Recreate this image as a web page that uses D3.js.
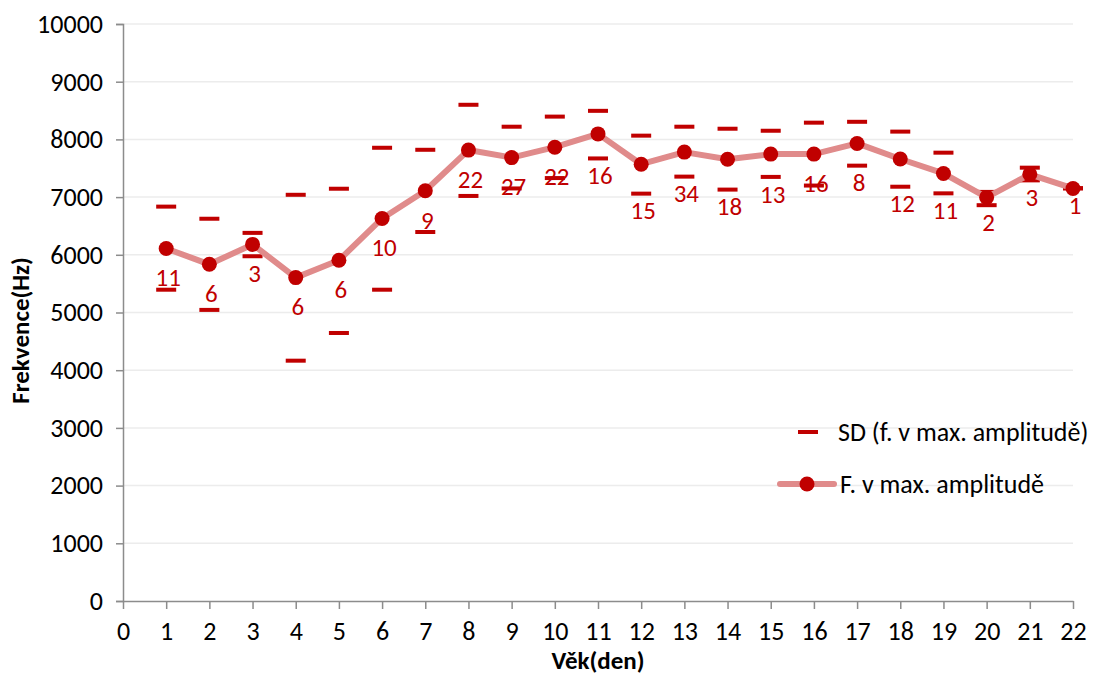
<!DOCTYPE html>
<html>
<head>
<meta charset="utf-8">
<script src="https://cdn.jsdelivr.net/npm/d3@7"></script>
<style>
  body { margin: 0; background: #fff; }
  svg { display: block; }
  text { font-family: Carlito, Calibri, "Open Sans", sans-serif; }
  .tick text { font-size: 26px; fill: #000; }
  .axis-title { font-size: 25px; font-weight: bold; fill: #000; }
  .legend text { font-size: 26px; fill: #000; }
  .n-label { font-size: 25px; fill: #c00000; }
</style>
</head>
<body>
<svg width="1102" height="675"></svg>
<script>
const days = [1, 2, 3, 4, 5, 6, 7, 8, 9, 10, 11, 12, 13, 14, 15, 16, 17, 18, 19, 20, 21, 22];
const meanFreq = [6110, 5835, 6180, 5605, 5905, 6630, 7110, 7815, 7685, 7865, 8095, 7570,
                  7780, 7655, 7745, 7745, 7930, 7660, 7410, 6995, 7395, 7150];
const sdUpper = [6835, 6625, 6380, 7040, 7145, 7855, 7820, 8600, 8220, 8395, 8495, 8065,
                 8220, 8185, 8150, 8290, 8305, 8135, 7770, 7090, 7510, 7155];
const sdLower = [5395, 5045, 5975, 4165, 4645, 5395, 6395, 7020, 7150, 7330, 7670, 7060,
                 7355, 7130, 7350, 7200, 7545, 7180, 7065, 6860, 7290, 7150];
const counts = [11, 6, 3, 6, 6, 10, 9, 22, 27, 22, 16, 15, 34, 18, 13, 16, 8, 12, 11, 2, 3, 1];
const yTicks = [0, 1000, 2000, 3000, 4000, 5000, 6000, 7000, 8000, 9000, 10000];
const xTicks = d3.range(0, 23);

const svg = d3.select('svg');
const width = +svg.attr('width');
const height = +svg.attr('height');
const margin = { top: 24, right: 29, bottom: 74, left: 123 };
const innerWidth = width - margin.left - margin.right;
const innerHeight = height - margin.top - margin.bottom;

const dark = '#c00000';
const light = '#e08b8b';

const data = days.map((d, i) => ({
    day: d, mean: meanFreq[i], hi: sdUpper[i], lo: sdLower[i], n: counts[i]
}));

const xScale = d3.scaleLinear().domain([0, 22]).range([0, innerWidth]);
const yScale = d3.scaleLinear().domain([0, 10000]).range([innerHeight, 0]);

const g = svg.append('g')
    .attr('transform', `translate(${margin.left}, ${margin.top})`);

// gridlines
g.append('g')
    .selectAll('line')
    .data(yTicks.slice(1))
    .enter()
    .append('line')
    .attr('x1', 0)
    .attr('x2', innerWidth)
    .attr('y1', (d) => yScale(d))
    .attr('y2', (d) => yScale(d))
    .attr('stroke', '#ececec')
    .attr('stroke-width', 1.5);

const yAxisG = g.append('g')
    .call(d3.axisLeft(yScale).tickValues(yTicks).tickFormat(d3.format('d'))
        .tickSize(7).tickPadding(13));
yAxisG.selectAll('.domain, .tick line').attr('stroke', '#8c8c8c').attr('stroke-width', 1.5);

const xAxisG = g.append('g')
    .attr('transform', `translate(0, ${innerHeight})`)
    .call(d3.axisBottom(xScale).tickValues(xTicks).tickFormat(d3.format('d'))
        .tickSize(8).tickPadding(13).tickSizeOuter(0));
xAxisG.selectAll('.domain, .tick line').attr('stroke', '#8c8c8c').attr('stroke-width', 1.5);

g.append('text')
    .attr('class', 'axis-title')
    .attr('x', innerWidth / 2)
    .attr('y', innerHeight + 68)
    .attr('text-anchor', 'middle')
    .text('Věk(den)');

g.append('text')
    .attr('class', 'axis-title')
    .attr('transform', `translate(${-margin.left + 29}, ${innerHeight / 2 + 18}) rotate(-90)`)
    .attr('text-anchor', 'middle')
    .text('Frekvence(Hz)');

// SD dashes
const sdVals = data.flatMap((d) => [{ day: d.day, v: d.hi }, { day: d.day, v: d.lo }]);
g.append('g')
    .selectAll('rect')
    .data(sdVals)
    .enter()
    .append('rect')
    .attr('x', (d) => xScale(d.day) - 10)
    .attr('y', (d) => yScale(d.v) - 2)
    .attr('width', 20)
    .attr('height', 4)
    .attr('fill', dark);

// mean line
const line = d3.line()
    .x((d) => xScale(d.day))
    .y((d) => yScale(d.mean));

g.append('path')
    .datum(data)
    .attr('d', line)
    .attr('fill', 'none')
    .attr('stroke', light)
    .attr('stroke-width', 6)
    .attr('stroke-linejoin', 'round');

g.append('g')
    .selectAll('circle')
    .data(data)
    .enter()
    .append('circle')
    .attr('cx', (d) => xScale(d.day))
    .attr('cy', (d) => yScale(d.mean))
    .attr('r', 7.5)
    .attr('fill', dark);

// n labels: below the point, or below the lower SD dash when it is close
g.append('g')
    .selectAll('text')
    .data(data)
    .enter()
    .append('text')
    .attr('class', 'n-label')
    .attr('x', (d) => xScale(d.day) + 2)
    .attr('y', (d) => {
        const py = yScale(d.mean);
        const ly = yScale(d.lo);
        return (ly - py < 30.5 ? ly + 17 : py + 29);
    })
    .attr('dy', '0.35em')
    .attr('text-anchor', 'middle')
    .text((d) => d.n);

// legend
const legend = svg.append('g').attr('class', 'legend');
legend.append('rect')
    .attr('x', 798).attr('y', 430).attr('width', 20).attr('height', 4)
    .attr('fill', dark);
legend.append('text')
    .attr('x', 838).attr('y', 432).attr('dy', '0.35em')
    .text('SD (f. v max. amplitudě)');
legend.append('line')
    .attr('x1', 780).attr('x2', 834).attr('y1', 484).attr('y2', 484)
    .attr('stroke', light).attr('stroke-width', 6).attr('stroke-linecap', 'round');
legend.append('circle')
    .attr('cx', 807).attr('cy', 484).attr('r', 7.5).attr('fill', dark);
legend.append('text')
    .attr('x', 840).attr('y', 484).attr('dy', '0.35em')
    .text('F. v max. amplitudě');
</script>
</body>
</html>
